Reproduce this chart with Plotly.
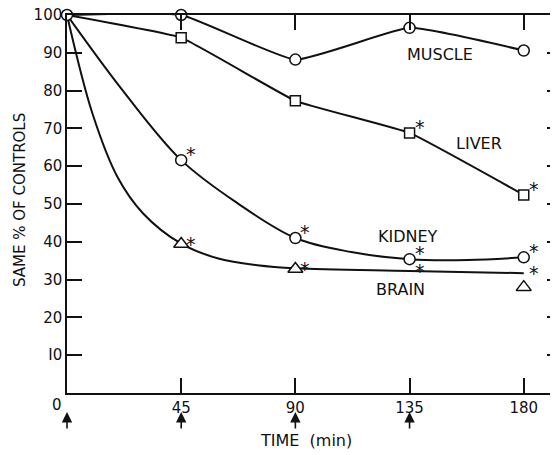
import plotly.graph_objects as go

# ---- data ----
time = [0, 45, 90, 135, 180]
muscle = [100, 100, 88.2, 96.6, 90.6]
liver = [100, 94.0, 77.3, 68.8, 52.4]
kidney = [100, 61.6, 41.0, 35.4, 35.9]

# hand-drawn fitted curves, read along their length
kidney_curve_t = [0, 22, 45, 67, 90, 112, 135, 158, 180]
kidney_curve = [100, 80.0, 61.6, 50.3, 41.0, 37.3, 35.4, 35.2, 35.9]
brain_curve_t = [0, 10, 20, 30, 45, 60, 75, 90, 135, 180]
brain_curve = [100, 74.0, 57.0, 47.5, 39.5, 35.5, 33.8, 33.0, 32.3, 31.7]

brain_obs_t = [45, 90, 180]
brain_obs = [39.4, 32.8, 28.0]

liver_sig_t = [135, 180]
liver_sig = [68.8, 52.4]
kidney_sig_t = [45, 90, 135, 180]
kidney_sig = [61.6, 41.0, 35.4, 35.9]
brain_sig_t = [45, 90, 135, 180]
brain_sig = [39.4, 32.8, 32.3, 31.7]

injection_times = [0, 45, 90, 135]
x_ticks = [45, 90, 135, 180]
y_ticks = [10, 20, 30, 40, 50, 60, 70, 80, 90, 100]
y_tick_text = ["I0", "20", "30", "40", "50", "60", "70", "80", "90", "100"]

labels = ["MUSCLE", "LIVER", "KIDNEY", "BRAIN"]
label_pos = [(147, 89.5), (162.5, 66), (134.5, 41.5), (131.5, 27.5)]

FONT = "DejaVu Sans"
BLACK = "#111"

fig = go.Figure()

line_style = dict(color=BLACK, width=2)
fig.add_trace(go.Scatter(x=time, y=muscle, mode="lines", cliponaxis=False,
                         line=dict(shape="spline", smoothing=0.4, **line_style)))
fig.add_trace(go.Scatter(x=time, y=liver, mode="lines", line=dict(shape="spline", smoothing=0.3, **line_style)))
fig.add_trace(go.Scatter(x=kidney_curve_t, y=kidney_curve, mode="lines", line=dict(shape="spline", smoothing=1.0, **line_style)))
fig.add_trace(go.Scatter(x=brain_curve_t, y=brain_curve, mode="lines", line=dict(shape="spline", smoothing=1.0, **line_style)))

mk = dict(color="white", size=11, line=dict(color=BLACK, width=1.5))
fig.add_trace(go.Scatter(x=time, y=muscle, mode="markers", cliponaxis=False, marker=dict(symbol="circle", **mk)))
fig.add_trace(go.Scatter(x=time[1:], y=liver[1:], mode="markers", cliponaxis=False,
                         marker=dict(symbol="square", color="white", size=10, line=dict(color=BLACK, width=1.5))))
fig.add_trace(go.Scatter(x=time[1:], y=kidney[1:], mode="markers", cliponaxis=False, marker=dict(symbol="circle", **mk)))
fig.add_trace(go.Scatter(x=brain_obs_t, y=brain_obs, mode="markers", cliponaxis=False,
                         marker=dict(symbol="triangle-up", color="white", size=13, line=dict(color=BLACK, width=1.5))))

# invisible trace for right axis
fig.add_trace(go.Scatter(x=[0], y=[0], yaxis="y2", mode="markers", marker=dict(opacity=0)))

# significance stars
for (xs, ys), ysh in [((liver_sig_t, liver_sig), 6), ((kidney_sig_t, kidney_sig), 6), ((brain_sig_t, brain_sig), 0)]:
    for xv, yv in zip(xs, ys):
        fig.add_annotation(x=xv, y=yv, text="*", showarrow=False, xshift=10, yshift=ysh,
                           font=dict(family=FONT, size=19, color=BLACK))

for name, (lx, ly) in zip(labels, label_pos):
    fig.add_annotation(x=lx, y=ly, text=name, showarrow=False,
                       font=dict(family=FONT, size=16, color=BLACK))

for t in injection_times:
    fig.add_annotation(x=t, xref="x", y=0, yref="paper", yshift=-19, ax=0, ay=18, text="",
                       showarrow=True, arrowhead=2, arrowsize=1.3, arrowwidth=1.6, arrowcolor=BLACK)

fig.add_annotation(x=0, xref="x", y=0, yref="paper", text="0", showarrow=False,
                   xanchor="center", yanchor="middle", xshift=-10, yshift=-12,
                   font=dict(family=FONT, size=15, color=BLACK))
fig.add_annotation(x=94, xref="x", y=0, yref="paper", text="TIME  (min)", showarrow=False,
                   xanchor="center", yanchor="middle", yshift=-47,
                   font=dict(family=FONT, size=16, color=BLACK))
fig.add_annotation(x=0, xref="paper", y=0.5, yref="paper", text="SAME % OF CONTROLS", showarrow=False,
                   xanchor="center", yanchor="middle", xshift=-47, yshift=4, textangle=-90,
                   font=dict(family=FONT, size=15, color=BLACK))

# the page body adds an 8px offset, so the figure is 8px smaller than the window
fig.update_layout(
    width=550, height=447,
    margin=dict(l=59, r=0, t=7, b=62, autoexpand=False),
    paper_bgcolor="white", plot_bgcolor="white",
    showlegend=False,
    xaxis=dict(range=[0, 193.5], tickvals=x_ticks, ticks="inside", ticklen=15, tickwidth=1.5,
               tickcolor=BLACK, showline=True, linecolor=BLACK, linewidth=1.5, mirror="ticks",
               showgrid=False, zeroline=False, automargin=False,
               tickfont=dict(family=FONT, size=15, color=BLACK)),
    yaxis=dict(range=[0, 100], tickvals=y_ticks, ticktext=y_tick_text, ticks="inside", ticklen=15,
               tickwidth=1.5, tickcolor=BLACK, showline=True, linecolor=BLACK, linewidth=1.5,
               showgrid=False, zeroline=False, automargin=False, ticklabeloverflow="allow",
               tickfont=dict(family=FONT, size=15, color=BLACK)),
    yaxis2=dict(range=[0, 100], overlaying="y", side="right", tickvals=y_ticks[:-1], ticks="inside",
                ticklen=11, tickwidth=1.5, tickcolor=BLACK, showticklabels=False, showline=False,
                showgrid=False, zeroline=False, automargin=False),
)

fig.write_html("out.html")
